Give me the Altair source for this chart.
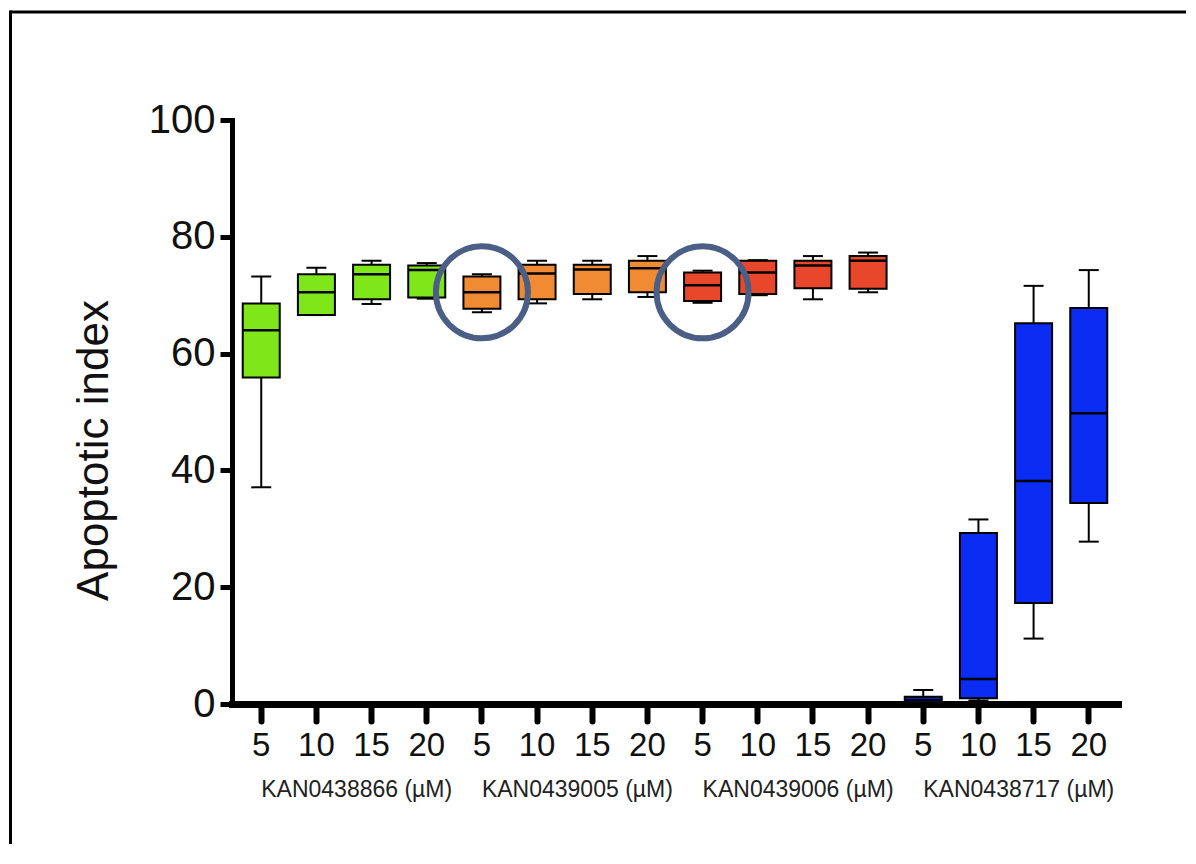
import altair as alt
import pandas as pd

groups = ["KAN0438866", "KAN0439005", "KAN0439006", "KAN0438717"]
doses = ["5", "10", "15", "20"]
colors = ["#7fe619", "#f08a33", "#e8472c", "#0b2cf2"]

# five-number summaries per box (group-major order, doses 5,10,15,20)
mins = [37.1, 66.6, 68.5, 69.4, 67.1, 68.6, 69.3, 69.7, 68.7, 70.0, 69.3, 70.5, 0.0, 0.6, 11.2, 27.8]
q1s = [55.9, 66.6, 69.3, 69.6, 67.7, 69.3, 70.2, 70.5, 69.0, 70.2, 71.2, 71.1, 0.3, 1.0, 17.3, 34.4]
meds = [64.0, 70.5, 73.6, 74.3, 70.5, 73.7, 74.4, 74.6, 71.7, 73.9, 75.1, 75.9, 0.7, 4.3, 38.2, 49.8]
q3s = [68.6, 73.6, 75.2, 75.1, 73.2, 75.2, 75.2, 75.9, 73.9, 75.9, 75.9, 76.7, 1.25, 29.3, 65.2, 67.8]
maxs = [73.2, 74.7, 75.9, 75.5, 73.6, 75.9, 75.9, 76.7, 74.2, 76.0, 76.7, 77.3, 2.4, 31.6, 71.6, 74.3]

circled = [4, 8]
circle_values = [70.5, 70.5]

ids = [f"{g}|{d}" for g in groups for d in doses]
df = pd.DataFrame({
    "id": ids,
    "group": [g for g in groups for d in doses],
    "min": mins, "q1": q1s, "med": meds, "q3": q3s, "max": maxs,
})
df_circ = pd.DataFrame({"id": [ids[i] for i in circled], "v": circle_values})
df_lab = pd.DataFrame({"first": [f"{g}|5" for g in groups],
                       "text": [f"{g} (µM)" for g in groups]})
df_one = pd.DataFrame({"a": [0]})

FONT = "Liberation Sans"
xscale = alt.Scale(domain=ids, paddingInner=0, paddingOuter=0.03)
yscale = alt.Scale(domain=[0, 100], nice=False)

xaxis = alt.Axis(title=None, labelExpr="split(datum.value,'|')[1]", labelAngle=0,
                 labelFont=FONT, labelFontSize=33, labelColor="#111", labelPadding=8,
                 domainColor="black", domainWidth=7, tickColor="black", tickWidth=6,
                 tickSize=17, tickCap="round", domainCap="square")
yaxis = alt.Axis(values=[0, 20, 40, 60, 80, 100], title="Apoptotic index",
                 titleFont=FONT, titleFontSize=44, titleFontWeight="normal", titleColor="#111",
                 titleX=-116, titleY=330, titleAlign="center", titleBaseline="bottom", titleAngle=270,
                 labelFont=FONT, labelFontSize=40, labelColor="#111", labelPadding=5,
                 domainColor="black", domainWidth=5, tickColor="black", tickWidth=5,
                 tickSize=12, grid=False, domainCap="square")

base = alt.Chart(df)
X = alt.X("id:N", scale=xscale, axis=xaxis)

whisk = base.mark_rule(color="black", strokeWidth=2).encode(
    x=X, y=alt.Y("min:Q", scale=yscale, axis=yaxis), y2="max:Q")
box = base.mark_bar(size=37, stroke="black", strokeWidth=2).encode(
    x=X, y=alt.Y("q1:Q", scale=yscale), y2="q3:Q",
    color=alt.Color("group:N", scale=alt.Scale(domain=groups, range=colors), legend=None))
med = base.mark_tick(size=37, thickness=2.5, color="black", opacity=1).encode(
    x=X, y=alt.Y("med:Q", scale=yscale))
capl = base.mark_tick(size=20, thickness=2, color="black", opacity=1).encode(
    x=X, y=alt.Y("min:Q", scale=yscale))
caph = base.mark_tick(size=20, thickness=2, color="black", opacity=1).encode(
    x=X, y=alt.Y("max:Q", scale=yscale))
circ = alt.Chart(df_circ).mark_point(shape="circle", filled=False, size=8464,
                                     color="#4a5e86", strokeWidth=6, opacity=1).encode(
    x=alt.X("id:N", scale=xscale), y=alt.Y("v:Q", scale=yscale))
labs = alt.Chart(df_lab).mark_text(align="left", baseline="middle", font=FONT,
                                   fontSize=23, color="#222").encode(
    x=alt.X("first:N", scale=xscale), y=alt.value(670), text="text:N")
border_top = alt.Chart(df_one).mark_rule(color="black", strokeWidth=3).encode(
    x=alt.value(-222), x2=alt.value(954), y=alt.value(-108))
border_left = alt.Chart(df_one).mark_rule(color="black", strokeWidth=3).encode(
    x=alt.value(-221.5), y=alt.value(-109.5), y2=alt.value(760))

chart = alt.layer(whisk, box, med, capl, caph, circ, labs, border_top, border_left).properties(
    width=886, height=584,
    background="white",
    autosize=alt.AutoSizeParams(type="none"),
    padding={"left": 224, "top": 112, "right": 70, "bottom": 140},
).configure_view(strokeWidth=0, strokeOpacity=0)

chart.save("out.html", embed_options={"renderer": "svg", "actions": False})
